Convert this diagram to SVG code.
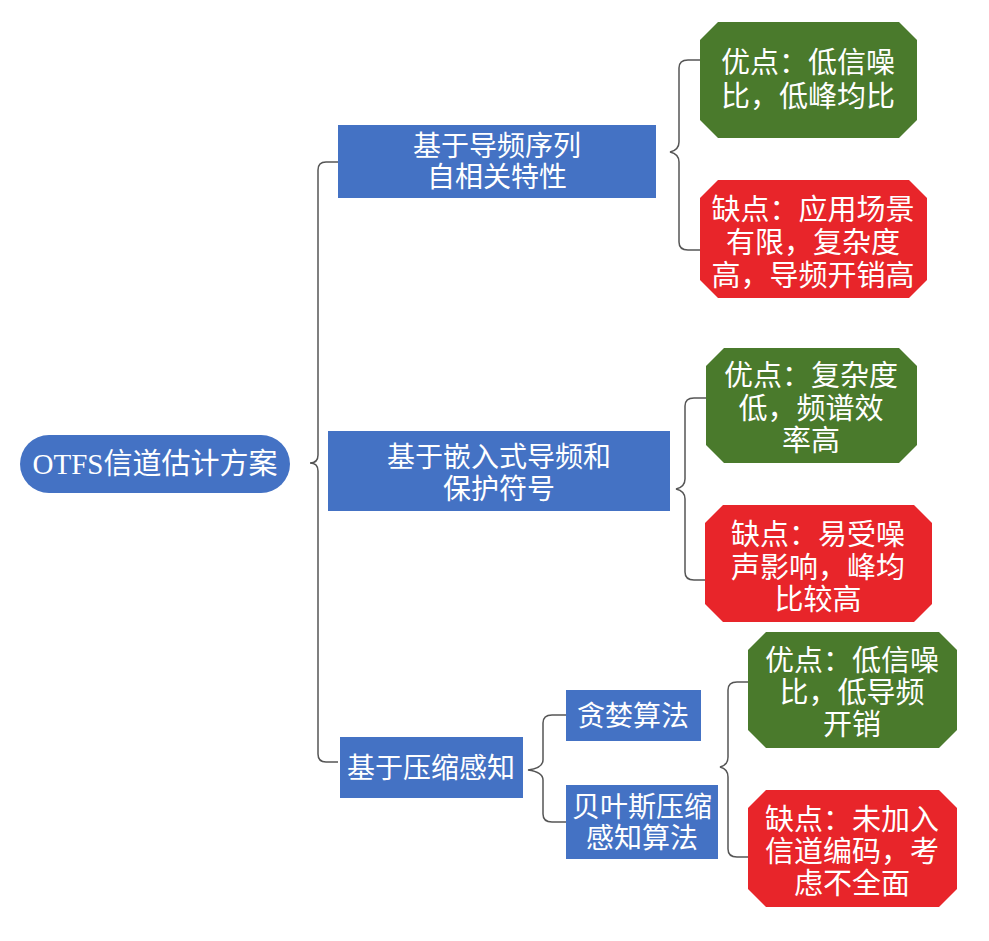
<svg xmlns="http://www.w3.org/2000/svg" width="989" height="941" viewBox="0 0 989 941">
<style>
text{font-family:"Liberation Serif","Noto Sans CJK SC",serif;fill:#fff;text-anchor:middle}
.b{fill:#4472c4}.g{fill:#4a7a2c}.r{fill:#e8252a}
.c{fill:none;stroke:#555;stroke-width:1.5}
.t{font-size:29px}.s{font-size:28px}
</style>
<rect width="989" height="941" fill="#fff"/>
<g id="connectors">
<path class="c" d="M338,162 H326 Q318,162 318,170 V455 Q318,463 310,463 Q318,463 318,471 V754 Q318,762 326,762 H338"/>
<path class="c" d="M700,60 H688 Q679,60 679,68 V142 Q679,150 670,152 Q679,154 679,162 V242 Q679,250 688,250 H700"/>
<path class="c" d="M706,398 H694 Q685,398 685,406 V479 Q685,487 676,489 Q685,491 685,499 V572 Q685,580 694,580 H706"/>
<path class="c" d="M566,715 H552 Q543,715 543,723 V760 Q543,768 528,770 Q543,772 543,780 V814 Q543,822 552,822 H566"/>
<path class="c" d="M748,682 H737 Q728,682 728,690 V757 Q728,765 720,767 Q728,769 728,777 V849 Q728,857 737,857 H748"/>
</g>
<g id="root"><rect class="b" x="20" y="435" width="270" height="58" rx="29"/><text class="t" x="155" y="474">OTFS信道估计方案</text></g>
<g id="n1"><rect class="b" x="338" y="125" width="318" height="73"/><text class="s" x="497" y="156">基于导频序列</text><text class="s" x="497" y="187">自相关特性</text></g>
<g id="n2"><rect class="b" x="328" y="431" width="342" height="80"/><text class="s" x="499" y="467">基于嵌入式导频和</text><text class="s" x="499" y="499">保护符号</text></g>
<g id="n3"><rect class="b" x="340" y="737" width="183" height="61"/><text class="s" x="431" y="778">基于压缩感知</text></g>
<g id="n31"><rect class="b" x="566" y="690" width="135" height="51"/><text class="s" x="633" y="726">贪婪算法</text></g>
<g id="n32"><rect class="b" x="566" y="785" width="152" height="74"/><text class="s" x="642" y="817">贝叶斯压缩</text><text class="s" x="642" y="848">感知算法</text></g>
<g id="p1"><polygon class="g" points="718,22 899,22 917,40 917,120 899,138 718,138 700,120 700,40"/><text class="t" x="808" y="73">优点：低信噪</text><text class="t" x="808" y="107">比，低峰均比</text></g>
<g id="c1"><polygon class="r" points="718,180 909,180 927,198 927,280 909,298 718,298 700,280 700,198"/><text class="t" x="813" y="220">缺点：应用场景</text><text class="t" x="813" y="253">有限，复杂度</text><text class="t" x="813" y="286">高，导频开销高</text></g>
<g id="p2"><polygon class="g" points="724,348 899,348 917,366 917,445 899,463 724,463 706,445 706,366"/><text class="t" x="811" y="386">优点：复杂度</text><text class="t" x="811" y="419">低，频谱效</text><text class="t" x="811" y="451">率高</text></g>
<g id="c2"><polygon class="r" points="723,505 914,505 932,523 932,604 914,622 723,622 705,604 705,523"/><text class="t" x="818" y="545">缺点：易受噪</text><text class="t" x="818" y="578">声影响，峰均</text><text class="t" x="818" y="610">比较高</text></g>
<g id="p3"><polygon class="g" points="766,632 939,632 957,650 957,730 939,748 766,748 748,730 748,650"/><text class="t" x="852" y="671">优点：低信噪</text><text class="t" x="852" y="703">比，低导频</text><text class="t" x="852" y="735">开销</text></g>
<g id="c3"><polygon class="r" points="766,790 939,790 957,808 957,889 939,907 766,907 748,889 748,808"/><text class="t" x="852" y="830">缺点：未加入</text><text class="t" x="852" y="862">信道编码，考</text><text class="t" x="852" y="894">虑不全面</text></g>
</svg>
